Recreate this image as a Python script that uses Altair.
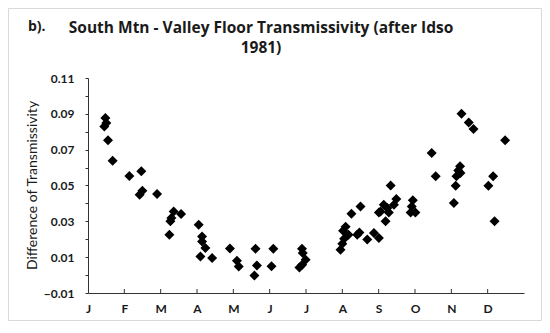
import altair as alt
import pandas as pd

# fractional month position (0 = start of January) and difference of transmissivity
months = [0.479, 0.504, 0.449, 0.551, 0.678, 1.138, 1.468, 1.496, 1.421, 1.901,
          2.358, 2.562, 2.295, 2.267, 2.240,
          3.047, 3.140, 3.140, 3.231, 3.094, 3.416, 3.906, 4.100, 4.149,
          4.610, 4.650, 4.580, 5.100, 5.050, 5.890, 5.910, 5.990, 5.895, 5.820,
          6.950, 7.000, 7.050, 7.020, 7.090, 7.170, 7.250, 7.500, 7.470, 7.410, 7.686, 7.870, 8.006,
          8.050, 8.140, 8.240, 8.006, 8.280, 8.420, 8.190, 8.330, 8.485,
          8.940, 8.910, 8.880, 9.010,
          9.460, 9.570,
          10.070, 10.120, 10.140, 10.250, 10.190, 10.240, 10.280, 10.480, 10.610,
          11.020, 11.150, 11.190, 11.480]
values = [0.0877, 0.0849, 0.0830, 0.0752, 0.0638, 0.0553, 0.0579, 0.0471, 0.0449, 0.0453,
          0.0355, 0.0341, 0.0319, 0.0300, 0.0225,
          0.0281, 0.0216, 0.0188, 0.0151, 0.0104, 0.0095, 0.0149, 0.0080, 0.0048,
          0.0147, 0.0054, -0.0002, 0.0147, 0.0050, 0.0147, 0.0123, 0.0086, 0.0058, 0.0043,
          0.0142, 0.0175, 0.0203, 0.0248, 0.0270, 0.0225, 0.0343, 0.0383, 0.0238, 0.0225, 0.0198, 0.0235, 0.0207,
          0.0355, 0.0393, 0.0374, 0.0350, 0.0350, 0.0393, 0.0300, 0.0500, 0.0425,
          0.0417, 0.0383, 0.0350, 0.0350,
          0.0681, 0.0551,
          0.0402, 0.0499, 0.0551, 0.0570, 0.0584, 0.0607, 0.0901, 0.0852, 0.0815,
          0.0499, 0.0551, 0.0300, 0.0752]

month_labels = ["J", "F", "M", "A", "M", "J", "J", "A", "S", "O", "N", "D"]
month_ticks = list(range(12))
inner_ticks = list(range(1, 12))
y_ticks = [round(-0.01 + 0.01 * i, 2) for i in range(13)]

title_lines = ["South Mtn - Valley Floor Transmissivity (after Idso", "1981)"]
panel_label = "b)."
y_title = "Difference of Transmissivity"

FONT = "Lato"
TFONT = "Open Sans"
W, H = 436, 215

df = pd.DataFrame({"month": months, "diff": values})
ticks_df = pd.DataFrame({"t": inner_ticks})

x_scale = alt.Scale(domain=[0, 12], nice=False, zero=False)
y_scale = alt.Scale(domain=[-0.01, 0.11], nice=False, zero=False)

label_arr = "[" + ",".join("'%s'" % m for m in month_labels) + "]"

x_axis = alt.Axis(values=month_ticks, labelExpr=label_arr + "[round(datum.value)]",
                  tickSize=0, labelPadding=10, labelFontSize=12, labelFontWeight="bold",
                  labelColor="#1a1a1a", domainColor="#333333", grid=False, title=None,
                  labelFont=FONT, labelFlush=False, labelOverlap=False, labelBound=False)

points = alt.Chart(df).mark_point(
    shape="diamond", filled=True, color="black", size=100, opacity=1
).encode(
    x=alt.X("month:Q", scale=x_scale, axis=x_axis),
    y=alt.Y("diff:Q", scale=y_scale,
            axis=alt.Axis(values=y_ticks,
                          labelExpr="abs(round(datum.value*100)) % 2 == 1 ? format(datum.value, '.2f') : ''",
                          tickSize=3, tickColor="#333333", domainColor="#333333",
                          labelPadding=11, labelFontSize=12, labelFontWeight="bold",
                          labelColor="#1a1a1a", labelFont=FONT, grid=False, labelOverlap=False,
                          title=y_title, titleFont=FONT, titleFontSize=14, titleFontWeight="normal",
                          titleColor="#1a1a1a", titleX=-56, titleY=107, titleAngle=-90,
                          titleAlign="center", titleBaseline="middle", labelFlush=False)),
)

xticks = alt.Chart(ticks_df).mark_rule(color="#333333", strokeWidth=1).encode(
    x=alt.X("t:Q", scale=x_scale, axis=x_axis),
    y=alt.value(H - 4),
    y2=alt.value(H),
)

title1 = alt.Chart(pd.DataFrame({"t": [title_lines[0]]})).mark_text(
    font=TFONT, fontSize=15.5, fontWeight="bold", color="#1a1a1a", align="center", baseline="alphabetic"
).encode(text="t:N", x=alt.value(173), y=alt.value(-45))

title2 = alt.Chart(pd.DataFrame({"t": [title_lines[1]]})).mark_text(
    font=TFONT, fontSize=15.5, fontWeight="bold", color="#1a1a1a", align="center", baseline="alphabetic"
).encode(text="t:N", x=alt.value(173), y=alt.value(-25))

plabel = alt.Chart(pd.DataFrame({"t": [panel_label]})).mark_text(
    font=TFONT, fontSize=14, fontWeight="bold", color="#1a1a1a", align="left", baseline="alphabetic"
).encode(text="t:N", x=alt.value(-60), y=alt.value(-47))

border = alt.Chart(pd.DataFrame({"a": [0]})).mark_rect(
    fillOpacity=0, stroke="#d9d9d9", strokeWidth=1
).encode(x=alt.value(-79.5), x2=alt.value(453.5), y=alt.value(-69.5), y2=alt.value(242.5))

chart = alt.layer(border, xticks, points, title1, title2, plabel).properties(
    width=W, height=H,
    autosize=alt.AutoSizeParams(type="none"),
    padding={"left": 80, "top": 70, "right": 18, "bottom": 28},
    background="white",
).configure_view(stroke=None).configure_axis(labelOverlap=False)

chart.save("out.html", embed_options={"renderer": "svg", "actions": False})
